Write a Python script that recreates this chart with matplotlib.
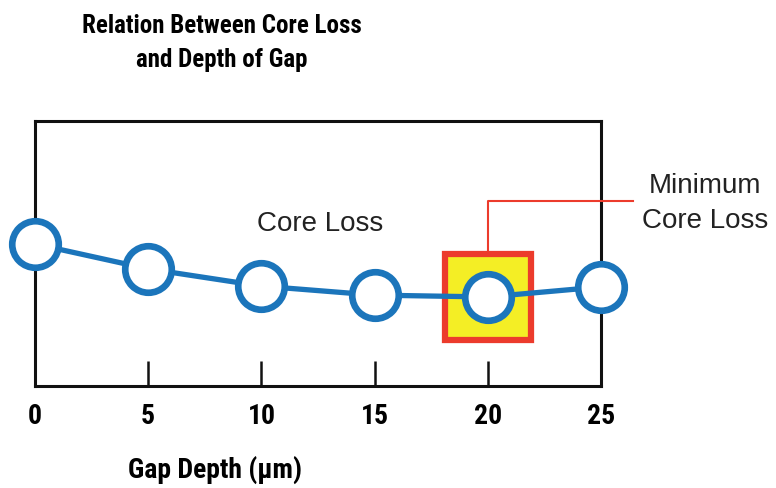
import matplotlib
matplotlib.use("Agg")
import matplotlib.pyplot as plt
from matplotlib.patches import Rectangle

# gap depth (um) vs relative core loss (arbitrary units)
depth = [0, 5, 10, 15, 20, 25]
core_loss = [53.6, 44.2, 37.7, 34.3, 33.6, 37.4]
tick_labels = ["0", "5", "10", "15", "20", "25"]
min_idx = 4

blue = "#1b75bb"
red = "#ec3b2c"
yellow = "#f4ee25"
narrow = ["Roboto Condensed", "Fira Sans Condensed", "Liberation Sans Narrow", "Liberation Sans"]
plain = ["Liberation Sans", "DejaVu Sans"]

fig = plt.figure(figsize=(7.76, 4.88), dpi=100)
ax = fig.add_axes([35/776, 102/488, 566/776, 265/488])
ax.set_xlim(0, 25)
ax.set_ylim(0, 100)

# highlight box round the minimum
bx, by = depth[min_idx], core_loss[min_idx]
ax.add_patch(Rectangle((bx - 1.9, by - 16.2), 3.8, 32.4, facecolor=yellow,
                       edgecolor=red, linewidth=4.5, zorder=2))

ax.plot(depth, core_loss, color=blue, linewidth=3.8, marker="o",
        markersize=33.5, markerfacecolor="white", markeredgecolor=blue,
        markeredgewidth=4.8, clip_on=False, zorder=4)

# callout line to label
top = by + 16.2
ax.plot([bx, bx, 26.4], [top, top + 20, top + 20], color=red, linewidth=1.5,
        clip_on=False, zorder=3)
ax.text(29.6, top + 19, "Minimum\nCore Loss", ha="center", va="center",
        fontsize=20, family=plain, linespacing=1.45, color="#222222")
ax.text(12.6, 61, "Core Loss", ha="center", va="center", fontsize=20,
        family=plain, color="#222222")

for s in ax.spines.values():
    s.set_linewidth(2.2)
    s.set_color("#111111")
ax.set_yticks([])
ax.set_xticks(depth)
ax.set_xticklabels(tick_labels, fontsize=20, fontweight="bold", family=narrow)
ax.tick_params(axis="x", direction="in", length=18, width=1.8, pad=12,
               color="#111111")
ax.set_xlabel("Gap Depth (μm)", fontsize=20, fontweight="bold", family=narrow,
              va="center")
ax.xaxis.set_label_coords(180/566, -84/265)

fig.text(222/776, 1 - 43/488, "Relation Between Core Loss\nand Depth of Gap",
         ha="center", va="center", fontsize=18, fontweight="bold",
         family=narrow, linespacing=1.55)

fig.savefig("out.png", dpi=100)
